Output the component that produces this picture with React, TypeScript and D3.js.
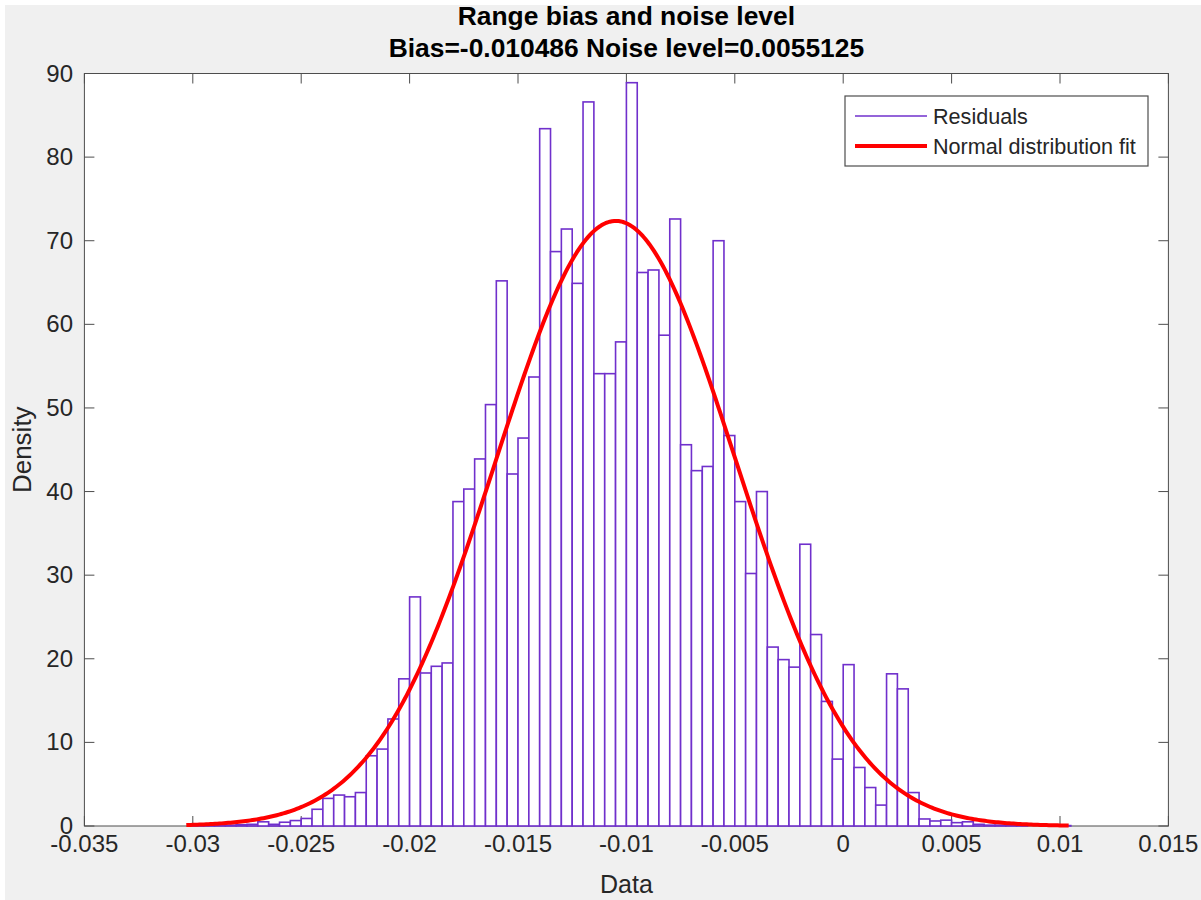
import React from "react";
import * as d3 from "d3";

// ---- data ----
const BIN_START = -0.03;
const BIN_WIDTH = 0.0005;
const DENSITY = [
  0.05, 0.05, 0.1, 0.1, 0.15, 0.2, 0.5, 0.2, 0.45, 0.65,
  0.9, 2.0, 3.3, 3.7, 3.5, 4.0, 8.4, 9.2, 12.8, 17.6,
  27.4, 18.3, 19.1, 19.5, 38.8, 40.3, 43.9, 50.4, 65.2, 42.1,
  46.4, 53.7, 83.4, 68.7, 71.4, 64.9, 86.6, 54.1, 54.1, 57.9,
  88.9, 66.2, 66.5, 58.7, 72.6, 45.6, 42.5, 43.0, 70.0, 46.7,
  38.8, 30.2, 40.0, 21.4, 19.9, 19.0, 33.7, 22.9, 14.9, 8.0,
  19.3, 7.0, 4.6, 2.5, 18.2, 16.4, 4.0, 0.84, 0.6, 0.7,
  0.4, 0.5, 0.2, 0.1, 0.1, 0.05, 0.05, 0, 0, 0.05, 0.05,
];
const FIT_MU = -0.010486;
const FIT_SIGMA = 0.0055125;
const FIT_RANGE = [-0.0303, 0.0104];

const X_TICKS = [-0.035, -0.03, -0.025, -0.02, -0.015, -0.01, -0.005, 0, 0.005, 0.01, 0.015];
const X_TICK_LABELS = ["-0.035", "-0.03", "-0.025", "-0.02", "-0.015", "-0.01", "-0.005", "0", "0.005", "0.01", "0.015"];
const Y_TICKS = [0, 10, 20, 30, 40, 50, 60, 70, 80, 90];
const Y_TICK_LABELS = ["0", "10", "20", "30", "40", "50", "60", "70", "80", "90"];

const TITLE = "Range bias and noise level";
const SUBTITLE = "Bias=-0.010486 Noise level=0.0055125";
const X_LABEL = "Data";
const Y_LABEL = "Density";
const LEGEND = ["Residuals", "Normal distribution fit"];

// ---- layout ----
const W = 1201;
const H = 900;
const L = 84.4;
const R = 1168.4;
const T = 73.5;
const B = 826;
const FONT = "'Liberation Sans', Arial, Helvetica, sans-serif";
const TXT = "#262626";
const AX = "#4d4d4d";
const BAR = "#7030cc";
const FIT = "#ff0000";

export default function App() {
  const x = d3.scaleLinear().domain([-0.035, 0.015]).range([L, R]);
  const y = d3.scaleLinear().domain([0, 90]).range([B, T]);

  const bins = DENSITY.map((v, i) => ({
    x0: BIN_START + i * BIN_WIDTH,
    x1: BIN_START + (i + 1) * BIN_WIDTH,
    v,
  }));

  const pdf = (t: number) =>
    Math.exp(-0.5 * ((t - FIT_MU) / FIT_SIGMA) ** 2) / (FIT_SIGMA * Math.sqrt(2 * Math.PI));
  const fitPts = d3.range(0, 401).map((k) => {
    const t = FIT_RANGE[0] + (k / 400) * (FIT_RANGE[1] - FIT_RANGE[0]);
    return [t, pdf(t)] as [number, number];
  });
  const line = d3
    .line<[number, number]>()
    .x((d) => x(d[0]))
    .y((d) => y(d[1]))
    .curve(d3.curveLinear);

  const TICK = 10;
  const cx = (L + R) / 2;

  return (
    <svg
      width={W}
      height={H}
      style={{ position: "absolute", left: 0, top: 0, display: "block" }}
      fontFamily={FONT}
    >
      <rect x={0} y={0} width={W} height={H} fill="#ffffff" />
      <rect x={5} y={5} width={W - 5} height={H - 5} fill="#f0f0f0" />
      <rect x={L} y={T} width={R - L} height={B - T} fill="#ffffff" />

      {/* axes box */}
      <rect x={L} y={T} width={R - L} height={B - T} fill="none" stroke={AX} strokeWidth={1} />
      {X_TICKS.map((t, i) => (
        <g key={"xt" + i}>
          <line x1={x(t)} x2={x(t)} y1={B} y2={B - TICK} stroke={AX} strokeWidth={1} />
          <line x1={x(t)} x2={x(t)} y1={T} y2={T + TICK} stroke={AX} strokeWidth={1} />
        </g>
      ))}
      {Y_TICKS.map((t, i) => (
        <g key={"yt" + i}>
          <line x1={L} x2={L + TICK} y1={y(t)} y2={y(t)} stroke={AX} strokeWidth={1} />
          <line x1={R} x2={R - TICK} y1={y(t)} y2={y(t)} stroke={AX} strokeWidth={1} />
        </g>
      ))}

      {/* histogram */}
      {bins.map((b, i) => (
        <rect
          key={"b" + i}
          x={x(b.x0)}
          y={y(b.v)}
          width={x(b.x1) - x(b.x0)}
          height={y(0) - y(b.v)}
          fill="#ffffff"
          stroke={BAR}
          strokeWidth={1.6}
        />
      ))}

      {/* fit */}
      <path d={line(fitPts) || ""} fill="none" stroke={FIT} strokeWidth={4} strokeLinejoin="round" />

      {/* tick labels */}
      {X_TICKS.map((t, i) => (
        <text key={"xl" + i} x={x(t)} y={852} textAnchor="middle" fontSize={24} fill={TXT}>
          {X_TICK_LABELS[i]}
        </text>
      ))}
      {Y_TICKS.map((t, i) => (
        <text key={"yl" + i} x={73} y={y(t) + 8} textAnchor="end" fontSize={24} fill={TXT}>
          {Y_TICK_LABELS[i]}
        </text>
      ))}

      {/* labels */}
      <text x={cx} y={893} textAnchor="middle" fontSize={25} fill={TXT}>
        {X_LABEL}
      </text>
      <text
        transform={`translate(31, ${(T + B) / 2}) rotate(-90)`}
        textAnchor="middle"
        fontSize={26}
        fill={TXT}
      >
        {Y_LABEL}
      </text>
      <text x={cx} y={25} textAnchor="middle" fontSize={26.4} fontWeight="bold" fill="#000">
        {TITLE}
      </text>
      <text x={cx} y={57} textAnchor="middle" fontSize={26.4} fontWeight="bold" fill="#000">
        {SUBTITLE}
      </text>

      {/* legend */}
      <g>
        <rect x={845} y={96} width={303} height={70} fill="#ffffff" stroke={AX} strokeWidth={1.2} />
        <line x1={855} x2={927} y1={116} y2={116} stroke={BAR} strokeWidth={1.5} />
        <line x1={855} x2={927} y1={146} y2={146} stroke={FIT} strokeWidth={4} />
        <text x={933} y={124} fontSize={21.6} fill={TXT}>
          {LEGEND[0]}
        </text>
        <text x={933} y={154} fontSize={21.6} fill={TXT}>
          {LEGEND[1]}
        </text>
      </g>
    </svg>
  );
}
